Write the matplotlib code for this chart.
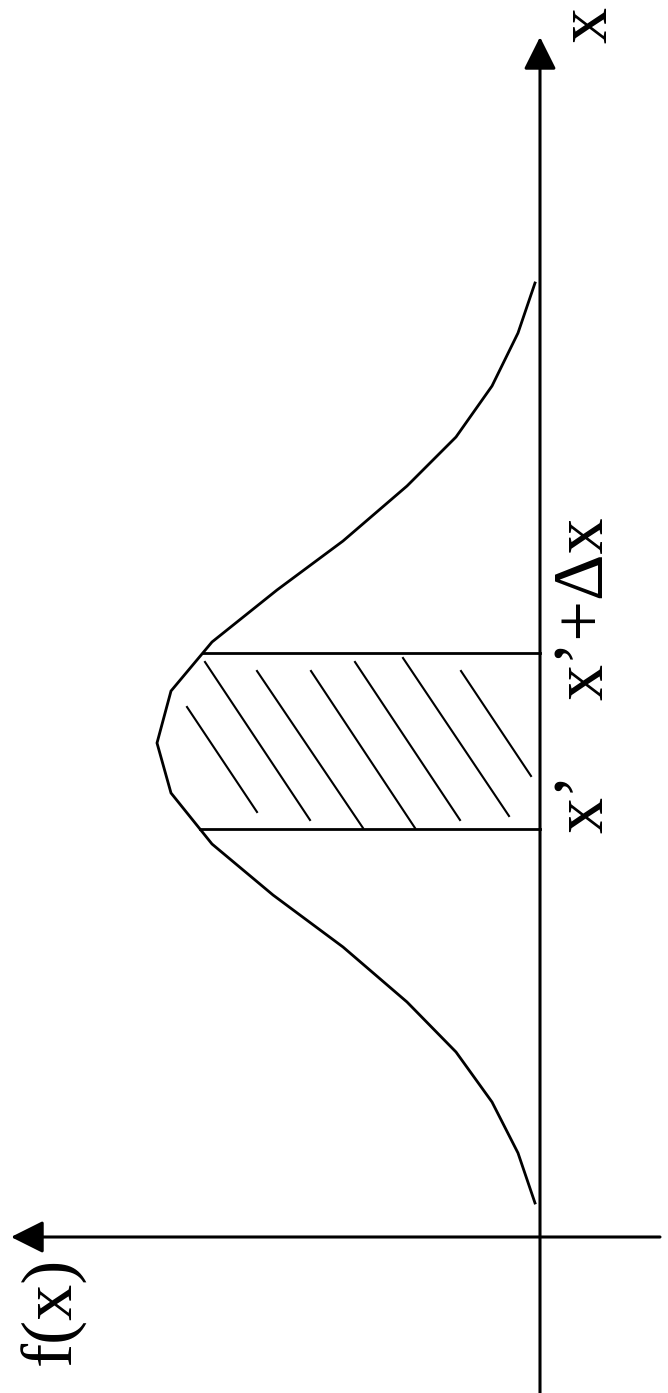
import numpy as np
import matplotlib
matplotlib.use('Agg')
import matplotlib.pyplot as plt

# bell curve, drawn sideways: x runs up the page, f(x) runs to the left
curve_x = [34, 84, 135, 185, 235, 290, 342, 393, 444, 494, 546, 595, 647, 696, 751, 800, 851, 904, 954]
curve_f = [5, 22, 48, 84, 133, 197, 267, 328, 369, 383, 369, 328, 263, 197, 133, 84, 48, 22, 5]

# the strip between x' and x'+dx
x_lo, x_hi = 408, 584

# hand drawn hatch strokes inside the strip (start / end)
hatch_f0 = [353, 335, 283, 229, 185, 137, 79]
hatch_x0 = [530, 575, 566, 566, 575, 579, 566]
hatch_f1 = [283, 230, 177, 125, 80, 31, 9]
hatch_x1 = [425, 417, 409, 409, 417, 421, 461]

labels = ["x\u2019", "x\u2019+\u0394x"]

fig = plt.figure(figsize=(6.68, 13.93), dpi=100)
ax = fig.add_axes([0, 0, 1, 1])
ax.set_xlim(540, -128)   # f grows to the left
ax.set_ylim(-156, 1237)
ax.axis('off')

# axes with arrow heads
arrow = dict(arrowstyle='-|>,head_length=1.0,head_width=0.5', color='black',
             lw=2.2, shrinkA=0, shrinkB=0, mutation_scale=20)
ax.annotate('', xy=(0, 1200), xytext=(0, -156), arrowprops=arrow)
ax.annotate('', xy=(529, 0), xytext=(-120, 0), arrowprops=arrow)

# curve
ax.plot(curve_f, curve_x, color='black', lw=2.0, solid_joinstyle='miter')

# strip borders, up to the curve
for xv in (x_lo, x_hi):
    fv = np.interp(xv, curve_x, curve_f)
    ax.plot([0, fv], [xv, xv], color='black', lw=2.0)

for a, b, c, d in zip(hatch_f0, hatch_x0, hatch_f1, hatch_x1):
    ax.plot([a, c], [b, d], color='black', lw=1.5)

font = dict(family='Liberation Serif', size=52, rotation=90,
            rotation_mode='anchor', ha='left', va='baseline')
ax.text(-62, 404, labels[0], **font)
ax.text(-62, 537, labels[1], **font)
ax.text(-66, 1194, "x", **font)
ax.text(470, -128, "f(x)", **font)

fig.savefig('out.png', dpi=100)
